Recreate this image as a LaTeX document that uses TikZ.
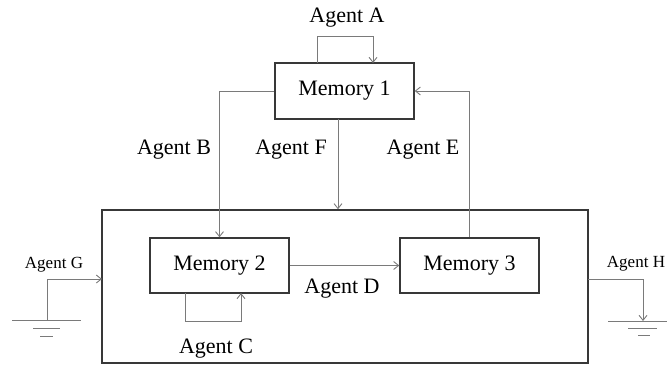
\documentclass[tikz,border=0pt]{standalone}
\usepackage{fontspec}
\setmainfont{Liberation Serif}
\usetikzlibrary{arrows.meta,calc}
\definecolor{boxline}{HTML}{383838}
\definecolor{wireline}{HTML}{7A7A7A}
\tikzset{
  membox/.style={draw=boxline,line width=1.4pt,minimum width=139pt,minimum height=55pt,
    inner sep=0pt,font=\fontsize{22}{26}\selectfont},
  wire/.style={draw=wireline,line width=0.9pt},
  arr/.style={wire,-{Straight Barb[length=5pt,width=8pt,line width=0.9pt]}},
  lbl/.style={anchor=base,inner sep=0pt,font=\fontsize{22}{26}\selectfont},
  slbl/.style={anchor=base,inner sep=0pt,font=\fontsize{17}{20}\selectfont},
  gnd/.style={draw=wireline,line width=1pt}
}
\begin{document}
\begin{tikzpicture}[x=1pt,y=-1pt]
\useasboundingbox (0,0) rectangle (667,365);

% system boundary and memories
\node[draw=boxline,line width=1.4pt,minimum width=486pt,minimum height=153pt,inner sep=0pt] (big) at (345,286.5) {};
\node[membox,minimum height=56pt] (m1) at (344.5,91) {Memory 1};
\node[membox] (m2) at (219.5,265.5) {Memory 2};
\node[membox] (m3) at (469.5,265.5) {Memory 3};

% helper points
\coordinate (aS) at (317,63);
\coordinate (aE) at (373,63);
\coordinate (cS) at (185,293);
\coordinate (cE) at (241,293);
\coordinate (fS) at (338,119);
\coordinate (gIn) at (102,279);
\coordinate (hOut) at (588,279);
\coordinate (g1) at (47,320);
\coordinate (g2) at (643,321);

% agents
\draw[arr] (aS) -- ++(0,-27) -| (aE);
\draw[arr] (m1.west) -| (m2.north);
\draw[arr] (fS) -- (fS |- big.north);
\draw[arr] (m3.north) |- (m1.east);
\draw[arr] (m2.east) -- (m3.west);
\draw[arr] (cS) -- ++(0,28) -| (cE);
\draw[arr] (g1) |- (gIn);
\draw[arr] (hOut) -| (g2);

% grounds
\draw[gnd] (12,320) -- (81,320);
\draw[gnd] (33,328) -- (60,328);
\draw[gnd] (40,336) -- (53,336);
\draw[gnd] (608,321) -- (667,321);
\draw[gnd] (628,328) -- (657,328);
\draw[gnd] (638,335) -- (650,335);

% labels
\node[lbl] (tA) at (347,22) {Agent A};
\node[lbl] (tB) at (174,154) {Agent B};
\node[lbl] (tF) at (291,154) {Agent F};
\node[lbl] (tE) at (423,154) {Agent E};
\node[lbl] (tD) at (342,293) {Agent D};
\node[lbl] (tC) at (216,353) {Agent C};
\node[slbl] (tG) at (54,268) {Agent G};
\node[slbl] (tH) at (636,267) {Agent H};
\end{tikzpicture}
\end{document}
